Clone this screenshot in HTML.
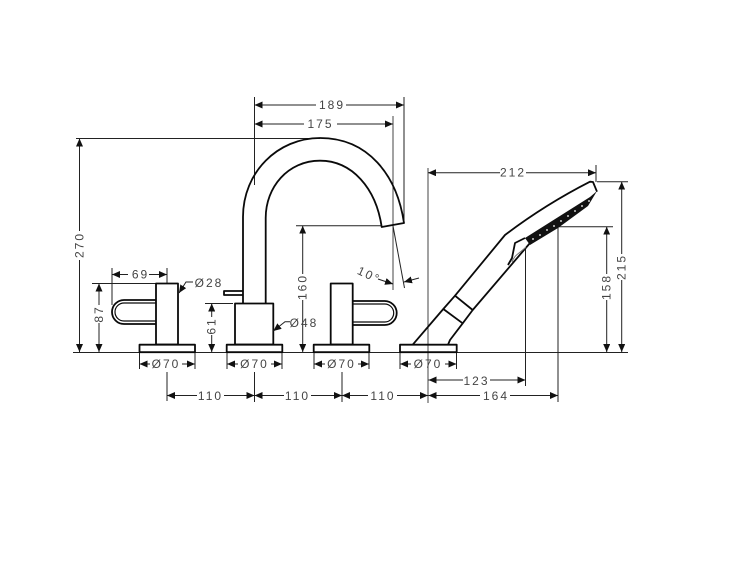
<!DOCTYPE html>
<html>
<head>
<meta charset="utf-8">
<style>
html,body{margin:0;padding:0;background:#fff;width:750px;height:563px;overflow:hidden}
svg{display:block;filter:blur(.3px)}
text{font-family:"Liberation Sans",sans-serif;font-size:12px;letter-spacing:2px;fill:#444;text-anchor:middle;dominant-baseline:central}
.m{fill:none;stroke:#0a0a0a;stroke-width:1.8;stroke-linejoin:round}
.t{fill:none;stroke:#222;stroke-width:1}
.g{fill:none;stroke:#444;stroke-width:1}
.s{marker-start:url(#a)}
.e{marker-end:url(#a)}
</style>
</head>
<body>
<svg width="750" height="563" viewBox="0 0 750 563" xmlns="http://www.w3.org/2000/svg">
<defs>
<marker id="a" viewBox="0 0 8 7" refX="8" refY="3.5" markerUnits="userSpaceOnUse" markerWidth="8" markerHeight="7" orient="auto-start-reverse"><path d="M0 0L8 3.5L0 7z" fill="#111"/></marker>
</defs>

<!-- extension lines -->
<g class="t">
<path d="M73 352.5H628"/>
<path d="M76 138.5H320"/>
<path d="M254.5 97V185"/>
<path d="M404 97V223"/>
<path d="M393 116V290" class="g"/>
<path d="M296 225.7H382"/>
<path d="M393 226L404.5 288"/>
<path d="M92 283.5H156"/>
<path d="M112 268V305"/>
<path d="M167 268V283"/>
<path d="M205 303.5H233"/>
<path d="M428 168V403" class="g"/>
<path d="M596 165V182"/>
<path d="M597 181.7H628"/>
<path d="M558 226.7H613"/>
<path d="M525.5 248V386"/>
<path d="M558 227V402"/>
<path d="M139.5 352V369M195 352V369M227 352V369M282 352V369M314 352V369M369 352V369M400 352V369M456.5 352V369"/>
<path d="M167 372V401M254.5 372V402M342 372V402"/>
</g>

<!-- left valve -->
<g class="m">
<rect x="139.5" y="344.7" width="55.5" height="7.5"/>
<rect x="156" y="283.5" width="22" height="61"/>
<path d="M156 300H124A12 12 0 0 0 124 324H156"/>
<path d="M156 303H124A9 9 0 0 0 124 321H156" stroke-width="1.2"/>
</g>

<!-- spout -->
<g class="m">
<rect x="226.7" y="344.7" width="55.6" height="7.5"/>
<rect x="235" y="303.5" width="38.3" height="41"/>
<path d="M243 303.5V217C243 172 278 138 320 138C368 138 397 175 404 223L381.7 227C376 188 352 160.7 320 160.7C288 160.7 265.7 187 265.7 218V303.5"/>
<path d="M243 291H224V295H243"/>
</g>

<!-- right valve -->
<g class="m">
<rect x="313.7" y="344.7" width="55.6" height="7.5"/>
<rect x="330.7" y="283.5" width="22" height="61"/>
<path d="M352.7 301H384.7A12 12 0 0 1 384.7 325H352.7"/>
<path d="M352.7 304H384.7A9 9 0 0 1 384.7 322H352.7" stroke-width="1.2"/>
</g>

<!-- hand shower -->
<g class="m">
<rect x="400" y="344.7" width="56.7" height="7.5"/>
<path d="M412.7 344.7L443.3 309"/>
<path d="M443.3 309L455 295.7L472.7 310L462.7 323.3Z"/>
<path d="M448 344.7L450 340L462.7 323.3"/>
<path d="M455 295.7L505 235C530 216 560 197 590 181.7L593 182L597 191.7"/>
<path d="M472.7 310L530 243"/>
<path d="M525 238L515 243L512 258L508 265"/>
<path d="M512 262C514 255 520 253 526 247" stroke="#777" stroke-width="1"/>
</g>
<path d="M525 238L590 197L597 191L588 206L558 228L530 245Z" fill="#111"/>
<g fill="#ccc">
<circle cx="533" cy="239" r="1"/><circle cx="540" cy="235" r="1"/><circle cx="547" cy="230" r="1"/><circle cx="554" cy="226" r="1"/><circle cx="561" cy="221" r="1"/><circle cx="568" cy="216" r="1"/><circle cx="575" cy="211" r="1"/><circle cx="582" cy="206" r="1"/><circle cx="589" cy="201" r="1"/>
</g>

<!-- dimensions -->
<g class="t">
<line class="s" x1="254.5" y1="105" x2="316" y2="105"/><line class="e" x1="346" y1="105" x2="404" y2="105"/>
<line class="s" x1="254.5" y1="124" x2="304" y2="124"/><line class="e" x1="337" y1="124" x2="393" y2="124"/>
<line class="s" x1="428" y1="172.7" x2="500" y2="172.7"/><line class="e" x1="526" y1="172.7" x2="596" y2="172.7"/>
<line class="s" x1="79.5" y1="138.5" x2="79.5" y2="231"/><line class="e" x1="79.5" y1="260" x2="79.5" y2="352"/>
<line class="s" x1="112" y1="274.5" x2="128" y2="274.5"/><line class="e" x1="149" y1="274.5" x2="167" y2="274.5"/>
<line class="s" x1="99" y1="283.5" x2="99" y2="305"/><line class="e" x1="99" y1="323" x2="99" y2="352"/>
<line class="s" x1="211.7" y1="303.5" x2="211.7" y2="317"/><line class="e" x1="211.7" y1="335" x2="211.7" y2="352"/>
<line class="s" x1="302.7" y1="225.7" x2="302.7" y2="274"/><line class="e" x1="302.7" y1="300" x2="302.7" y2="352"/>
<line class="s" x1="606.7" y1="226.7" x2="606.7" y2="274"/><line class="e" x1="606.7" y1="300" x2="606.7" y2="352"/>
<line class="s" x1="621.7" y1="181.7" x2="621.7" y2="254"/><line class="e" x1="621.7" y1="280" x2="621.7" y2="352"/>

<line class="s" x1="139.5" y1="364" x2="150" y2="364"/><line class="e" x1="182" y1="364" x2="195" y2="364"/>
<line class="s" x1="227" y1="364" x2="238" y2="364"/><line class="e" x1="271" y1="364" x2="282" y2="364"/>
<line class="s" x1="314" y1="364" x2="325" y2="364"/><line class="e" x1="358" y1="364" x2="369" y2="364"/>
<line class="s" x1="400" y1="364" x2="411" y2="364"/><line class="e" x1="445" y1="364" x2="456.5" y2="364"/>

<line class="s" x1="428.5" y1="380" x2="463" y2="380"/><line class="e" x1="490" y1="380" x2="525.5" y2="380"/>

<line class="s" x1="167" y1="395.5" x2="197" y2="395.5"/><line class="e" x1="224" y1="395.5" x2="254.5" y2="395.5"/>
<line class="s" x1="254.5" y1="395.5" x2="284" y2="395.5"/><line class="e" x1="311" y1="395.5" x2="342" y2="395.5"/>
<line class="s" x1="342" y1="395.5" x2="368" y2="395.5"/><line class="e" x1="397" y1="395.5" x2="428" y2="395.5"/>
<line class="s" x1="428.5" y1="395.5" x2="480" y2="395.5"/><line class="e" x1="510" y1="395.5" x2="558" y2="395.5"/>

<path d="M193 282H186L179 293" class="e"/>
<path d="M290 321.7H285L273.3 331" class="e"/>
<path d="M378 279L393 284" class="e"/>
<path d="M419 278L404 282" class="e"/>
</g>

<!-- labels -->
<text x="332" y="105">189</text>
<text x="320.5" y="124">175</text>
<text x="513" y="172.7">212</text>
<text x="140.5" y="274.5">69</text>
<text x="209" y="283">Ø28</text>
<text x="304" y="323">Ø48</text>
<text x="166" y="364">Ø70</text>
<text x="254.5" y="364">Ø70</text>
<text x="341.5" y="364">Ø70</text>
<text x="428" y="364">Ø70</text>
<text x="476.5" y="381">123</text>
<text x="210.5" y="396">110</text>
<text x="297.5" y="396">110</text>
<text x="383" y="396">110</text>
<text x="496" y="396">164</text>
<text transform="translate(79.5 245) rotate(-90)">270</text>
<text transform="translate(99 314) rotate(-90)">87</text>
<text transform="translate(211.7 326) rotate(-90)">61</text>
<text transform="translate(302.7 287) rotate(-90)">160</text>
<text transform="translate(606.7 287) rotate(-90)">158</text>
<text transform="translate(621.7 267) rotate(-90)">215</text>
<text transform="translate(369 275) rotate(25)">10°</text>
</svg>
</body>
</html>
